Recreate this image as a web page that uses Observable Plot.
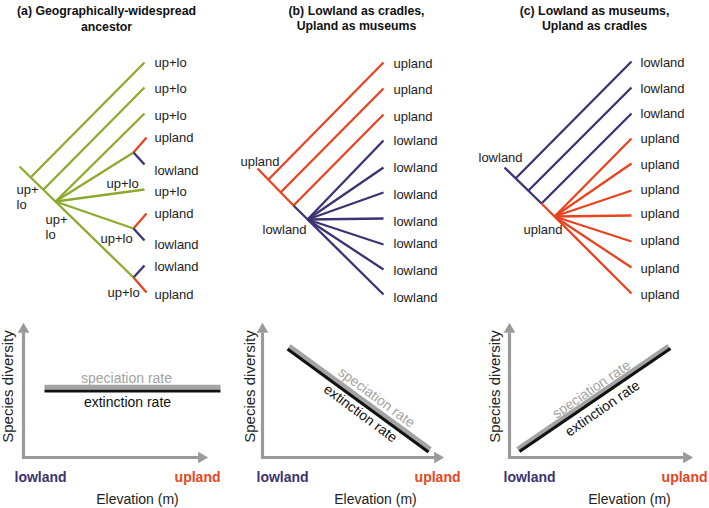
<!DOCTYPE html>
<html><head><meta charset="utf-8">
<script src="https://cdn.jsdelivr.net/npm/d3@7"></script>
<script src="https://cdn.jsdelivr.net/npm/@observablehq/plot@0.6"></script>
<style>body{margin:0;background:#fff} svg{display:block}</style>
</head><body><div id="chart"></div>
<script>
// colour keys: g = widespread (up+lo), r = upland, b = lowland
const palette = {g: "#8cab2c", r: "#e8441f", b: "#3b3372", k: "#111111", s: "#a3a3a3", a: "#9a9a9a"};

// Tree (a): edges [x1, y1, x2, y2, colour]
const treeA = [
  [19,166,133,277,"g"],
  [30,177,144,62,"g"],
  [43,189,144,87,"g"],
  [55,201,144,113,"g"],
  [55,201,133,152,"g"],
  [55,201,144,189,"g"],
  [55,201,133,228,"g"],
  [133,152,146,137,"r"],
  [133,152,144,164,"b"],
  [133,228,146,213,"r"],
  [133,228,144,240,"b"],
  [133,277,144,265,"b"],
  [133,277,146,292,"r"]
];
// Tree (b)
const treeB = [
  [257,168,293,205,"r"],
  [268,179,383,62,"r"],
  [280,192,383,88,"r"],
  [293,205,383,114,"r"],
  [293,205,383,294,"b"],
  [307,219,383,140,"b"],
  [307,219,383,167,"b"],
  [307,219,383,192,"b"],
  [307,219,383,218,"b"],
  [307,219,383,244,"b"],
  [307,219,383,269,"b"]
];
// Tree (c)
const treeC = [
  [504,167,541,203,"b"],
  [515,178,631,61,"b"],
  [528,190,631,87,"b"],
  [541,203,631,113,"b"],
  [541,203,631,293,"r"],
  [554,216,631,138,"r"],
  [554,216,631,163,"r"],
  [554,216,631,190,"r"],
  [554,216,631,215,"r"],
  [554,216,631,241,"r"],
  [554,216,631,267,"r"]
];

// Tip labels
const tipLabelsA = ["up+lo","up+lo","up+lo","upland","lowland","up+lo","upland","lowland","lowland","upland"];
const tipYA = [62,88,115,137,170,191,213,244,266,294];
const tipLabelsB = ["upland","upland","upland","lowland","lowland","lowland","lowland","lowland","lowland","lowland"];
const tipYB = [63,89,116,140,167,194,221,243,270,297];
const tipLabelsC = ["lowland","lowland","lowland","upland","upland","upland","upland","upland","upland","upland"];
const tipYC = [62,88,113,138,164,189,213,240,268,294];
const tipX = [154, 393, 640];

// Internal node labels
const nodeLabels = [
  {t:"up+", x:16, y:189}, {t:"lo", x:16, y:204},
  {t:"up+", x:45, y:219}, {t:"lo", x:45, y:234},
  {t:"up+lo", x:106, y:183},
  {t:"up+lo", x:100, y:238},
  {t:"up+lo", x:107, y:292},
  {t:"upland", x:240, y:161},
  {t:"lowland", x:262, y:229},
  {t:"lowland", x:478, y:157},
  {t:"upland", x:523, y:229}
];

// Panel titles
const titles = [
  {t:"(a) Geographically-widespread", x:106, y:11},
  {t:"ancestor", x:106, y:27},
  {t:"(b) Lowland as cradles,", x:356, y:11},
  {t:"Upland as museums", x:356, y:26},
  {t:"(c) Lowland as museums,", x:594, y:11},
  {t:"Upland as cradles", x:594, y:26}
];

// Bottom panels: axis origin, arrow tips
const axisX0 = [23, 262, 509];
const axisY0 = 457;
const axisTop = 323;
const axisRight = [207, 443, 692];

// rate lines [x1,y1,x2,y2]
const speciation = [[44,386.3,220,386.3],[289,345.5,430,448.5],[517,448.5,668,345.5]];
const extinction = [[44,390.5,220,390.5],[287,348.5,428,451.5],[519,451,670,348]];
const rateLabels = [
  {t:"speciation rate", x:126, y:378, r:0, c:"s"},
  {t:"extinction rate", x:127, y:402, r:0, c:"k"},
  {t:"speciation rate", x:376, y:397, r:36.5, c:"s"},
  {t:"extinction rate", x:360, y:413, r:36.5, c:"k"},
  {t:"speciation rate", x:591, y:389, r:-34.5, c:"s"},
  {t:"extinction rate", x:602, y:408, r:-34.5, c:"k"}
];
const lowlandX = [14, 256, 503];
const uplandX = [220, 460, 707];
const elevationX = [137, 375, 629];
const diversityX = [8, 250, 495];

// ---------- build mark data ----------
const toEdge = a => ({x1:a[0], y1:a[1], x2:a[2], y2:a[3], c:a[4]});
const edges = [...treeA, ...treeB, ...treeC].map(toEdge);
const tips = [
  ...tipLabelsA.map((t,i)=>({t, x:tipX[0], y:tipYA[i]})),
  ...tipLabelsB.map((t,i)=>({t, x:tipX[1], y:tipYB[i]})),
  ...tipLabelsC.map((t,i)=>({t, x:tipX[2], y:tipYC[i]}))
];
const shafts = [];
const heads = [];
axisX0.forEach((x0,i)=>{
  shafts.push({x1:x0, y1:axisY0+1.5, x2:x0, y2:axisTop+9});
  shafts.push({x1:x0-1.5, y1:axisY0, x2:axisRight[i]-9, y2:axisY0});
  heads.push({x:x0, y:axisTop+6, r:0});
  heads.push({x:axisRight[i]-6, y:axisY0, r:90});
});
const spec = speciation.map(a=>({x1:a[0],y1:a[1],x2:a[2],y2:a[3]}));
const ext = extinction.map(a=>({x1:a[0],y1:a[1],x2:a[2],y2:a[3]}));
const endLow = lowlandX.map(x=>({t:"lowland", x, y:477}));
const endUp = uplandX.map(x=>({t:"upland", x, y:477}));
const elev = elevationX.map(x=>({t:"Elevation (m)", x, y:499}));
const divers = diversityX.map(x=>({t:"Species diversity", x, y:386}));

const chart = Plot.plot({
  width: 709, height: 508, margin: 0,
  x: {domain: [0, 709], range: [0, 709]},
  y: {domain: [0, 508], range: [0, 508]},
  axis: null,
  style: {fontFamily: "'Liberation Sans', Arial, sans-serif", background: "white"},
  marks: [
    Plot.link(edges, {x1:"x1", y1:"y1", x2:"x2", y2:"y2", stroke: d => palette[d.c], strokeWidth: 2.3, strokeLinecap: "butt"}),
    Plot.text(tips, {x:"x", y:"y", text:"t", textAnchor:"start", fontSize:13, fill:"#222"}),
    Plot.text(nodeLabels, {x:"x", y:"y", text:"t", textAnchor:"start", fontSize:13, fill:"#222"}),
    Plot.text(titles, {x:"x", y:"y", text:"t", textAnchor:"middle", fontSize:12.3, fontWeight:"bold", fill:"#111"}),
    Plot.link(shafts, {x1:"x1", y1:"y1", x2:"x2", y2:"y2", stroke: palette.a, strokeWidth: 3.2}),
    Plot.dot(heads, {x:"x", y:"y", rotate:"r", symbol:"triangle", r:4.3, fill: palette.a, stroke:"none"}),
    Plot.link(spec, {x1:"x1", y1:"y1", x2:"x2", y2:"y2", stroke: palette.s, strokeWidth: 4.2}),
    Plot.link(ext, {x1:"x1", y1:"y1", x2:"x2", y2:"y2", stroke: palette.k, strokeWidth: 3.2}),
    Plot.text(rateLabels, {x:"x", y:"y", text:"t", rotate:"r", textAnchor:"middle", fontSize:14, fill: d => palette[d.c]}),
    Plot.text(endLow, {x:"x", y:"y", text:"t", textAnchor:"start", fontSize:14, fontWeight:"bold", fill: palette.b}),
    Plot.text(endUp, {x:"x", y:"y", text:"t", textAnchor:"end", fontSize:14, fontWeight:"bold", fill: palette.r}),
    Plot.text(elev, {x:"x", y:"y", text:"t", textAnchor:"middle", fontSize:14, fill:"#222"}),
    Plot.text(divers, {x:"x", y:"y", text:"t", rotate:-90, textAnchor:"middle", fontSize:15, fill:"#222"})
  ]
});
document.getElementById("chart").appendChild(chart);
</script></body></html>
